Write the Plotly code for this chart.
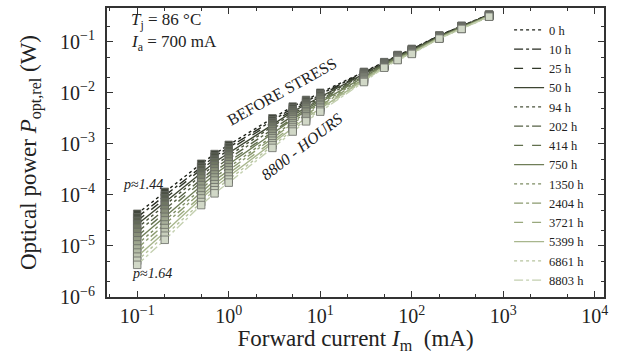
import plotly.graph_objects as go

current_mA = [0.1, 0.2, 0.5, 0.7, 1, 3, 5, 7, 10, 30, 50, 70, 100, 200, 350, 700]

hours = ["0 h", "10 h", "25 h", "50 h", "94 h", "202 h", "414 h", "750 h",
         "1350 h", "2404 h", "3721 h", "5399 h", "6861 h", "8803 h"]

x_tick_vals = [0.1, 1, 10, 100, 1000, 10000]
x_tick_text = ["10<sup>−1</sup>", "10<sup>0</sup>", "10<sup>1</sup>", "10<sup>2</sup>",
               "10<sup>3</sup>", "10<sup>4</sup>"]
y_tick_vals = [1e-6, 1e-5, 1e-4, 1e-3, 1e-2, 1e-1]
y_tick_text = ["10<sup>−6</sup>", "10<sup>−5</sup>", "10<sup>−4</sup>", "10<sup>−3</sup>",
               "10<sup>−2</sup>", "10<sup>−1</sup>"]

# log10 of optical power (W)
logP_0h    = [-4.37, -3.94, -3.39, -3.20, -3.02, -2.50, -2.27, -2.14, -2.00, -1.59, -1.40, -1.26, -1.14, -0.88, -0.69, -0.47]
logP_10h   = [-4.44, -4.01, -3.45, -3.25, -3.07, -2.54, -2.30, -2.17, -2.03, -1.60, -1.41, -1.27, -1.15, -0.88, -0.69, -0.47]
logP_25h   = [-4.51, -4.07, -3.50, -3.31, -3.12, -2.58, -2.34, -2.20, -2.05, -1.62, -1.42, -1.27, -1.15, -0.89, -0.70, -0.48]
logP_50h   = [-4.58, -4.14, -3.56, -3.36, -3.18, -2.62, -2.37, -2.23, -2.08, -1.63, -1.42, -1.28, -1.16, -0.89, -0.70, -0.48]
logP_94h   = [-4.65, -4.20, -3.62, -3.42, -3.23, -2.66, -2.41, -2.26, -2.10, -1.65, -1.43, -1.29, -1.17, -0.90, -0.71, -0.48]
logP_202h  = [-4.73, -4.28, -3.68, -3.48, -3.29, -2.71, -2.45, -2.29, -2.13, -1.66, -1.44, -1.30, -1.18, -0.90, -0.71, -0.48]
logP_414h  = [-4.81, -4.35, -3.75, -3.54, -3.35, -2.76, -2.49, -2.32, -2.16, -1.68, -1.45, -1.30, -1.18, -0.91, -0.72, -0.49]
logP_750h  = [-4.89, -4.43, -3.81, -3.60, -3.40, -2.80, -2.52, -2.36, -2.19, -1.69, -1.46, -1.31, -1.19, -0.91, -0.72, -0.49]
logP_1350h = [-4.97, -4.50, -3.88, -3.66, -3.46, -2.85, -2.56, -2.39, -2.22, -1.71, -1.47, -1.32, -1.20, -0.92, -0.73, -0.49]
logP_2404h = [-5.05, -4.58, -3.94, -3.72, -3.52, -2.89, -2.60, -2.43, -2.25, -1.73, -1.48, -1.33, -1.21, -0.92, -0.73, -0.50]
logP_3721h = [-5.13, -4.65, -4.01, -3.79, -3.58, -2.94, -2.64, -2.46, -2.28, -1.74, -1.48, -1.34, -1.22, -0.93, -0.74, -0.50]
logP_5399h = [-5.21, -4.73, -4.07, -3.85, -3.64, -2.99, -2.68, -2.49, -2.31, -1.76, -1.49, -1.34, -1.22, -0.93, -0.74, -0.50]
logP_6861h = [-5.29, -4.80, -4.14, -3.91, -3.70, -3.03, -2.72, -2.53, -2.34, -1.77, -1.50, -1.35, -1.23, -0.94, -0.75, -0.51]
logP_8803h = [-5.37, -4.88, -4.20, -3.97, -3.76, -3.08, -2.76, -2.56, -2.37, -1.79, -1.51, -1.36, -1.24, -0.94, -0.75, -0.51]

series = [logP_0h, logP_10h, logP_25h, logP_50h, logP_94h, logP_202h, logP_414h,
          logP_750h, logP_1350h, logP_2404h, logP_3721h, logP_5399h, logP_6861h, logP_8803h]

line_colors = ["#1c2018", "#262b20", "#313829", "#3d4532", "#49523b", "#566145", "#62704e",
               "#6f7e58", "#7d8c63", "#8b9a6f", "#99a87d", "#a8b68d", "#b6c39e", "#c4d0b0"]
marker_fills = ["#41463b", "#4c5245", "#585e4f", "#636a59", "#6f7663", "#7b826d", "#878e78",
                "#929a83", "#9da58e", "#a8b09a", "#b3bba5", "#bec5b1", "#c8cfbc", "#d1d8c7"]
dashes = ["dot", "dashdot", "dash", "solid"] * 4

FONT = "Liberation Serif"
fig = go.Figure()

for i, (name, lp) in enumerate(zip(hours, series)):
    fig.add_trace(go.Scatter(
        x=current_mA, y=[10 ** v for v in lp], mode="lines+markers",
        line=dict(color=line_colors[i], width=1.4, dash=dashes[i]),
        marker=dict(symbol="square", size=7.5, color=marker_fills[i],
                    line=dict(color="#686b64", width=0.8)),
        showlegend=False))

for i, name in enumerate(hours):
    fig.add_trace(go.Scatter(
        x=[None], y=[None], mode="lines", name=name,
        line=dict(color=line_colors[i], width=1.4, dash=dashes[i])))

axis_common = dict(
    type="log", showline=True, linecolor="#333333", linewidth=2, mirror="allticks",
    ticks="inside", ticklen=6, tickwidth=1, tickcolor="#333333",
    minor=dict(ticks="inside", ticklen=3, tickwidth=1, tickcolor="#333333"),
    showgrid=False, zeroline=False,
    tickfont=dict(family=FONT, size=20, color="#222222"),
)

fig.update_xaxes(range=[-1.33, 4.1], tickvals=x_tick_vals, ticktext=x_tick_text,
                 title=dict(text="Forward current <i>I</i><sub>m</sub>  (mA)",
                            font=dict(family=FONT, size=23, color="#222222"), standoff=2),
                 **axis_common)
fig.update_yaxes(range=[-6, -0.34], tickvals=y_tick_vals, ticktext=y_tick_text,
                 ticklabelstandoff=6,
                 title=dict(text="Optical power <i>P</i><sub>opt,rel</sub> (W)",
                            font=dict(family=FONT, size=23, color="#222222"), standoff=17),
                 **axis_common)

anno_font = dict(family=FONT, size=17, color="#222222")
fig.add_annotation(x=0.045, y=0.955, xref="paper", yref="paper", xanchor="left", yanchor="middle",
                   text="<i>T</i><sub>j</sub> = 86 °C", showarrow=False, font=anno_font)
fig.add_annotation(x=0.045, y=0.88, xref="paper", yref="paper", xanchor="left", yanchor="middle",
                   text="<i>I</i><sub>a</sub> = 700 mA", showarrow=False, font=anno_font)
fig.add_annotation(x=0.352, y=0.71, xref="paper", yref="paper", xanchor="center", yanchor="middle",
                   text="BEFORE STRESS", textangle=-29, showarrow=False,
                   font=dict(family=FONT, size=16, color="#222222"))
fig.add_annotation(x=0.392, y=0.52, xref="paper", yref="paper", xanchor="center", yanchor="middle",
                   text="<i>8800 - HOURS</i>", textangle=-38, showarrow=False,
                   font=dict(family=FONT, size=16, color="#222222"))
fig.add_annotation(x=0.072, y=0.388, xref="paper", yref="paper", xanchor="center", yanchor="middle",
                   text="<i>p</i>≈<i>1.44</i>", showarrow=False,
                   font=dict(family=FONT, size=14, color="#222222"))
fig.add_annotation(x=0.091, y=0.082, xref="paper", yref="paper", xanchor="center", yanchor="middle",
                   text="<i>p</i>≈<i>1.64</i>", showarrow=False,
                   font=dict(family=FONT, size=14, color="#222222"))

fig.update_layout(
    width=622, height=354,
    margin=dict(l=107, r=18, t=6, b=57),
    paper_bgcolor="white", plot_bgcolor="white",
    font=dict(family=FONT, color="#222222"),
    legend=dict(x=0.972, y=0.975, xanchor="right", yanchor="top",
                bgcolor="rgba(0,0,0,0)", font=dict(family=FONT, size=12.5, color="#222222"),
                itemwidth=30, tracegroupgap=0),
)

fig.write_html("out.html", post_script="document.body.style.margin='0';",
               config={"displayModeBar": False})
